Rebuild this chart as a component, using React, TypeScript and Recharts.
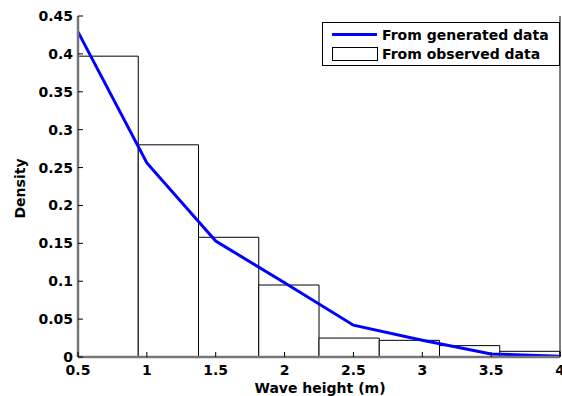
import { ComposedChart, Line, XAxis, YAxis, ReferenceArea } from 'recharts'

// histogram of observed wave heights (bin edges + density per bin)
const binEdges = [0.5, 0.9375, 1.375, 1.8125, 2.25, 2.6875, 3.125, 3.5625, 4]
const observedDensity = [0.397, 0.28, 0.158, 0.095, 0.025, 0.022, 0.015, 0.0075]

// density curve from generated data
const waveHeights = [0.5, 1, 1.5, 2, 2.5, 3, 3.5, 4]
const generatedDensity = [0.429, 0.256, 0.153, 0.098, 0.042, 0.022, 0.004, 0.001]

const xTicks = [0.5, 1, 1.5, 2, 2.5, 3, 3.5, 4]
const yTicks = [0, 0.05, 0.1, 0.15, 0.2, 0.25, 0.3, 0.35, 0.4, 0.45]

const FONT = 'DejaVu Sans, sans-serif'
const W = 562
const H = 396

const lineData = waveHeights.map((x, i) => ({ x, y: generatedDensity[i] }))
const bins = observedDensity.map((d, i) => ({ x1: binEdges[i], x2: binEdges[i + 1], d }))

// ticks point inward, labels drawn outside
// eslint-disable-next-line @typescript-eslint/no-explicit-any
const BottomTick = (p: any) => (
  <g>
    <line x1={p.x} y1={p.y} x2={p.x} y2={p.y - 5} stroke="#000" />
    <text x={p.x} y={p.y + 18} textAnchor="middle" fontFamily={FONT} fontWeight={700} fontSize={14} fill="#000">
      {p.payload.value}
    </text>
  </g>
)
// eslint-disable-next-line @typescript-eslint/no-explicit-any
const LeftTick = (p: any) => (
  <g>
    <line x1={p.x} y1={p.y} x2={p.x + 5} y2={p.y} stroke="#000" />
    <text x={p.x - 5} y={p.y + 5} textAnchor="end" fontFamily={FONT} fontWeight={700} fontSize={14} fill="#000">
      {p.payload.value}
    </text>
  </g>
)
// eslint-disable-next-line @typescript-eslint/no-explicit-any
const TopTick = (p: any) => <line x1={p.x} y1={p.y} x2={p.x} y2={p.y + 5} stroke="#000" />
// eslint-disable-next-line @typescript-eslint/no-explicit-any
const RightTick = (p: any) => <line x1={p.x} y1={p.y} x2={p.x - 5} y2={p.y} stroke="#000" />

// eslint-disable-next-line @typescript-eslint/no-explicit-any
const XLabel = (p: any) => {
  const vb = p.viewBox
  return (
    <text x={vb.x + vb.width / 2 + 1} y={vb.y + 36} textAnchor="middle" fontFamily={FONT} fontWeight={700} fontSize={14} fill="#000">
      Wave height (m)
    </text>
  )
}
// eslint-disable-next-line @typescript-eslint/no-explicit-any
const YLabel = (p: any) => {
  const vb = p.viewBox
  const cx = vb.x + 25
  const cy = vb.y + vb.height / 2 + 2
  return (
    <text x={cx} y={cy} transform={`rotate(-90, ${cx}, ${cy})`} textAnchor="middle" fontFamily={FONT} fontWeight={700} fontSize={14} fill="#000">
      Density
    </text>
  )
}

function LegendBox() {
  return (
    <svg width={238} height={44} style={{ position: 'absolute', left: 322, top: 22 }}>
      <rect x={0.5} y={0.5} width={237} height={43} fill="#fff" stroke="#000" />
      <line x1={10} y1={12.5} x2={55} y2={12.5} stroke="#0000ff" strokeWidth={3} />
      <rect x={10.5} y={25.5} width={45} height={13} fill="#fff" stroke="#000" />
      <text x={60} y={18} fontFamily={FONT} fontWeight={700} fontSize={14} fill="#000">From generated data</text>
      <text x={60} y={36.5} fontFamily={FONT} fontWeight={700} fontSize={14} fill="#000">From observed data</text>
    </svg>
  )
}

export default function App() {
  return (
    <div style={{ position: 'absolute', left: 0, top: 0, width: W, height: H, background: '#fff' }}>
      <ComposedChart width={W} height={H} margin={{ top: 16, right: 0, bottom: 0, left: 0 }}>
        <XAxis
          dataKey="x"
          type="number"
          domain={[0.5, 4]}
          ticks={xTicks}
          interval={0}
          height={39}
          tickSize={0}
          tickMargin={0}
          tick={BottomTick}
          tickLine={false}
          axisLine={{ stroke: '#777', strokeWidth: 2.5 }}
          label={<XLabel />}
        />
        <XAxis
          xAxisId="top"
          orientation="top"
          type="number"
          domain={[0.5, 4]}
          ticks={xTicks}
          interval={0}
          height={0}
          tickSize={0}
          tickMargin={0}
          tick={TopTick}
          tickLine={false}
          axisLine={{ stroke: '#000' }}
        />
        <YAxis
          type="number"
          domain={[0, 0.45]}
          ticks={yTicks}
          interval={0}
          width={78}
          tickSize={0}
          tickMargin={0}
          tick={LeftTick}
          tickLine={false}
          axisLine={{ stroke: '#777', strokeWidth: 2.5 }}
          label={<YLabel />}
        />
        <YAxis
          yAxisId="right"
          orientation="right"
          type="number"
          domain={[0, 0.45]}
          ticks={yTicks}
          interval={0}
          width={2}
          tickSize={0}
          tickMargin={0}
          tick={RightTick}
          tickLine={false}
          axisLine={{ stroke: '#000' }}
        />
        {bins.map((b, i) => (
          <ReferenceArea
            key={i}
            x1={b.x1}
            x2={b.x2}
            y1={0}
            y2={b.d}
            fill="#fff"
            fillOpacity={1}
            stroke="#000"
            strokeWidth={1}
            ifOverflow="visible"
          />
        ))}
        <Line
          data={lineData}
          dataKey="y"
          type="linear"
          stroke="#0000ff"
          strokeWidth={3}
          dot={false}
          activeDot={false}
          isAnimationActive={false}
        />
      </ComposedChart>
      <LegendBox />
    </div>
  )
}
